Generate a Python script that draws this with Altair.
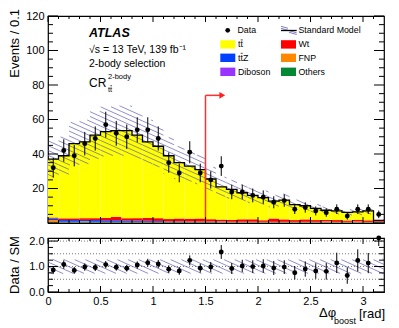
import math
import altair as alt
import pandas as pd

# ---------------- data ----------------
edges = [0.0, 0.1, 0.2, 0.3, 0.4, 0.5, 0.6, 0.7, 0.8, 0.9, 1.0, 1.1, 1.2, 1.3, 1.4, 1.5,
         1.6, 1.7, 1.8, 1.9, 2.0, 2.1, 2.2, 2.3, 2.4, 2.5, 2.6, 2.7, 2.8, 2.9, 3.0, 3.1, 3.2]
data_counts = [32, 42, 39, 46, 49, 57, 52, 50, 54, 54, 49, 35, 29, 41, 29, 25,
               33, 18, 18, 16, 15, 12, 13, 8, 9, 7, 6, 8, 4, 8, 8, 5]
data_err = [5.7, 6.5, 6.2, 6.8, 7.0, 7.5, 7.2, 7.1, 7.3, 7.3, 7.0, 5.9, 5.4, 6.4, 5.4, 5.0,
            5.7, 4.2, 4.2, 4.0, 3.9, 3.5, 3.6, 2.8, 3.0, 2.6, 2.4, 2.8, 2.0, 2.8, 2.8, 2.2]
ttbar = [33.8, 36.3, 43.3, 44.2, 48.2, 50.1, 49.9, 50.7, 48.2, 44.1, 41.7, 36.7, 32.4, 30.5, 28.4, 23.3,
         19.0, 17.8, 15.4, 13.9, 13.1, 10.1, 11.2, 8.9, 7.9, 6.8, 5.6, 5.3, 4.7, 4.6, 5.5, 0.3]
wt = [0.5, 1.0, 1.0, 1.0, 1.1, 1.3, 2.0, 1.3, 1.4, 1.6, 1.6, 1.3, 1.6, 1.6, 1.7, 1.3,
      1.0, 1.0, 1.4, 1.4, 0.9, 1.9, 1.4, 1.0, 1.4, 1.0, 0.8, 1.0, 0.8, 0.9, 0.9, 0.5]
ttz = [1.0, 1.0, 1.0, 0.8, 1.0, 0.9, 0.9, 0.8, 0.7, 0.6, 0.5, 0.3, 0.3, 0.2, 0.2, 0.2,
       0.2, 0.15, 0.15, 0.15, 0.1, 0.1, 0.1, 0.1, 0.1, 0.1, 0.1, 0.1, 0.1, 0.05, 0.05, 0.05]
fnp = [1.2, 0.2, 0.2, 0.5, 0.2, 0.2, 0.2, 0.2, 0.2, 0.2, 0.2, 0.2, 0.2, 0.2, 0.2, 0.2,
       0.4, 0.2, 0.2, 0.2, 0.2, 0.2, 0.2, 0.2, 0.2, 0.2, 0.5, 0.2, 0.2, 0.5, 0.2, 0.2]
diboson = [0.1, 0.1, 0.1, 0.1, 0.1, 0.1, 0.1, 0.1, 0.1, 0.1, 0.1, 0.1, 0.1, 0.1, 0.1, 0.1,
           0.1, 0.1, 0.1, 0.1, 0.1, 0.1, 0.1, 0.1, 0.1, 0.1, 0.1, 0.1, 0.1, 0.1, 0.1, 0.1]
others = [0.4, 0.4, 0.4, 0.4, 0.4, 0.4, 0.4, 0.4, 0.4, 0.4, 0.4, 0.4, 0.4, 0.4, 0.4, 0.4,
          0.3, 0.3, 0.3, 0.3, 0.3, 0.3, 0.3, 0.3, 0.3, 0.3, 0.3, 0.3, 0.3, 0.3, 0.3, 0.4]
sm_unc = [0.28, 0.28, 0.27, 0.27, 0.27, 0.27, 0.27, 0.27, 0.27, 0.27, 0.27, 0.27, 0.27, 0.27, 0.27, 0.27,
          0.27, 0.27, 0.27, 0.27, 0.27, 0.27, 0.27, 0.27, 0.27, 0.27, 0.27, 0.27, 0.27, 0.27, 0.27, 0.3]

processes = ["Others", "Diboson", "FNP", "ttZ", "Wt", "ttbar"]   # stacking order, bottom -> top
proc_values = {"Others": others, "Diboson": diboson, "FNP": fnp, "ttZ": ttz, "Wt": wt, "ttbar": ttbar}
proc_colors = {"ttbar": "#ffff00", "Wt": "#ff0000", "ttZ": "#0040ff",
               "FNP": "#ff8800", "Diboson": "#9933ff", "Others": "#008833"}

main_y_labels = [20, 40, 60, 80, 100, 120]
main_y_major = [0, 20, 40, 60, 80, 100, 120]
main_y_minor = [5, 10, 15, 25, 30, 35, 45, 50, 55, 65, 70, 75, 85, 90, 95, 105, 110, 115]
x_major = [0.0, 0.5, 1.0, 1.5, 2.0, 2.5, 3.0]
x_minor = [0.1, 0.2, 0.3, 0.4, 0.6, 0.7, 0.8, 0.9, 1.1, 1.2, 1.3, 1.4, 1.6, 1.7, 1.8, 1.9,
           2.1, 2.2, 2.3, 2.4, 2.6, 2.7, 2.8, 2.9, 3.1]
ratio_y_labels = [0, 1, 2]
ratio_y_major = [0, 1, 2]
ratio_y_minor = [0.25, 0.5, 0.75, 1.25, 1.5, 1.75]
ratio_ref_lines = [0.5, 1.0, 1.5, 2.0]

cut_x = 1.5
arrow_y = 74
arrow_end = 1.66

# ---------------- layout ----------------
FONT = "Liberation Sans"
W = 336
HM = 207
HR = 54
XD = [0.0, 3.2]
YMD = [0, 120]
YRD = [0, 2.12]
HATCH = "#5d5db3"

nb = len(data_counts)
totals = [sum(proc_values[p][i] for p in processes) for i in range(nb)]
centers = [(edges[i] + edges[i + 1]) / 2 for i in range(nb)]

xs = alt.Scale(domain=XD, nice=False, zero=False)
ysm = alt.Scale(domain=YMD, nice=False, zero=False)
ysr = alt.Scale(domain=YRD, nice=False, zero=False, clamp=True)

lab = dict(ticks=False, domain=False, grid=False, labelFont=FONT, labelFontSize=11,
           labelColor="black", labelPadding=4, labelFlush=False, labelOverlap=False, title=None)
ym_axis = alt.Axis(values=main_y_labels, **lab)
yr_axis = alt.Axis(values=ratio_y_labels, **lab)
xr_axis = alt.Axis(values=x_major, format="~g", **dict(lab, labelPadding=3))


def Xm(f):
    return alt.X(f, type="quantitative", scale=xs, axis=None)


def Xr(f):
    return alt.X(f, type="quantitative", scale=xs, axis=xr_axis)


def Ym(f):
    return alt.Y(f, type="quantitative", scale=ysm, axis=ym_axis)


def Yr(f):
    return alt.Y(f, type="quantitative", scale=ysr, axis=yr_axis)


one = pd.DataFrame({"k": [0]})


def txt(text, x, y, size=10.5, align="left", baseline="middle", weight="normal",
        style="normal", angle=0, color="black"):
    return alt.Chart(one).mark_text(
        text=text, align=align, baseline=baseline, fontSize=size, font=FONT,
        fontWeight=weight, fontStyle=style, angle=angle, color=color
    ).encode(x=alt.value(x), y=alt.value(y))


def box(x0, x1, y0, y1, color):
    return alt.Chart(one).mark_rect(color=color).encode(
        x=alt.value(x0), x2=alt.value(x1), y=alt.value(y0), y2=alt.value(y1))


def seg(x0, y0, x1, y1, color="black", width=1.0):
    return alt.Chart(one).mark_rule(color=color, strokeWidth=width).encode(
        x=alt.value(x0), x2=alt.value(x1), y=alt.value(y0), y2=alt.value(y1))


def ttbar_text(x, y, size, suffix=""):
    # "t t-bar": the bar over the second t is drawn as a short rule
    tw = 0.278 * size
    return [txt("tt" + suffix, x, y, size=size),
            seg(x + tw + 0.2, y - 0.5 * size, x + 2 * tw - 0.1, y - 0.5 * size, "black", 0.7)]


def hatch(lo_vals, hi_vals, ydom, height, spacing=4.8, slope=0.45):
    kx = W / (XD[1] - XD[0])
    ky = height / (ydom[1] - ydom[0])
    rows = []
    for i in range(len(lo_vals)):
        px0, px1 = edges[i] * kx, edges[i + 1] * kx
        pyt = height - (min(hi_vals[i], ydom[1]) - ydom[0]) * ky
        pyb = height - (max(lo_vals[i], ydom[0]) - ydom[0]) * ky
        kmin = math.ceil((pyt - slope * px1) / spacing)
        kmax = math.floor((pyb - slope * px0) / spacing)
        for k in range(kmin, kmax + 1):
            c = k * spacing
            a = max(px0, (pyt - c) / slope)
            b = min(px1, (pyb - c) / slope)
            if b - a > 0.3:
                rows.append(dict(x=a / kx, x2=b / kx,
                                 y=ydom[0] + (height - (c + slope * a)) / ky,
                                 y2=ydom[0] + (height - (c + slope * b)) / ky))
    return pd.DataFrame(rows)


# ---------------- main panel ----------------
stack_rows = []
for i in range(nb):
    base = 0.0
    for p in processes:
        v = proc_values[p][i]
        stack_rows.append(dict(x0=edges[i], x1=edges[i + 1], y0=base, y1=base + v, proc=p))
        base += v
stack_df = pd.DataFrame(stack_rows)

stack = alt.Chart(stack_df).mark_rect(strokeWidth=0).encode(
    x=Xm("x0"), x2="x1", y=Ym("y0"), y2="y1",
    color=alt.Color("proc:N", scale=alt.Scale(domain=list(proc_colors.keys()),
                                              range=list(proc_colors.values())), legend=None))

band_main = hatch([t * (1 - u) for t, u in zip(totals, sm_unc)],
                  [t * (1 + u) for t, u in zip(totals, sm_unc)], YMD, HM)
hatch_main = alt.Chart(band_main).mark_rule(color=HATCH, strokeWidth=0.7).encode(
    x=Xm("x"), x2="x2", y=Ym("y"), y2="y2")

step_df = pd.DataFrame({"x": edges, "y": totals + [totals[-1]]})
step = alt.Chart(step_df).mark_line(color="black", strokeWidth=1.3, interpolate="step-after").encode(
    x=Xm("x"), y=Ym("y"))

cut_df = pd.DataFrame({"x": [cut_x], "y0": [0], "y1": [arrow_y], "xe": [arrow_end]})
cut_v = alt.Chart(cut_df).mark_rule(color="#ff3030", strokeWidth=1.5).encode(
    x=Xm("x"), y=Ym("y0"), y2="y1")
cut_h = alt.Chart(cut_df).mark_rule(color="#ff3030", strokeWidth=1.5).encode(
    x=Xm("x"), x2="xe", y=Ym("y1"))
cut_head = alt.Chart(cut_df).mark_point(shape="triangle-right", filled=True, color="#ff2020",
                                         size=45, opacity=1).encode(x=Xm("xe"), y=Ym("y1"))

data_df = pd.DataFrame({"x": centers, "y": data_counts,
                        "lo": [d - e for d, e in zip(data_counts, data_err)],
                        "hi": [d + e for d, e in zip(data_counts, data_err)]})
err_main = alt.Chart(data_df).mark_rule(color="black", strokeWidth=1).encode(
    x=Xm("x"), y=Ym("lo"), y2="hi")
pts_main = alt.Chart(data_df).mark_point(filled=True, color="black", size=24, opacity=1).encode(
    x=Xm("x"), y=Ym("y"))


def yticks_layers(major, minor, Yenc, lmaj, lmin):
    out = []
    for vals, ln in ((major, lmaj), (minor, lmin)):
        d = pd.DataFrame({"v": vals})
        out.append(alt.Chart(d).mark_rule(color="black", strokeWidth=1).encode(
            y=Yenc("v"), x=alt.value(0), x2=alt.value(ln)))
        out.append(alt.Chart(d).mark_rule(color="black", strokeWidth=1).encode(
            y=Yenc("v"), x=alt.value(W), x2=alt.value(W - ln)))
    return out


def xticks_layers(Xenc, H, lmaj, lmin):
    out = []
    for vals, ln in ((x_major, lmaj), (x_minor, lmin)):
        d = pd.DataFrame({"v": vals})
        out.append(alt.Chart(d).mark_rule(color="black", strokeWidth=1).encode(
            x=Xenc("v"), y=alt.value(0), y2=alt.value(ln)))
        out.append(alt.Chart(d).mark_rule(color="black", strokeWidth=1).encode(
            x=Xenc("v"), y=alt.value(H), y2=alt.value(H - ln)))
    return out


anchor = alt.Chart(one).mark_rule(strokeOpacity=0).encode(
    x=alt.value(-39), x2=alt.value(-39), y=alt.value(-7), y2=alt.value(0))

legend_layers = [
    alt.Chart(one).mark_point(filled=True, color="black", size=22, opacity=1).encode(
        x=alt.value(179.7), y=alt.value(14.3)),
    txt("Data", 189.5, 14.3, size=8.8),
    seg(233, 12.3, 248.7, 16.8, HATCH, 0.8),
    seg(233, 10.3, 240, 12.3, HATCH, 0.8),
    seg(241, 16.3, 248.7, 18.5, HATCH, 0.8),
    seg(233, 14.5, 248.7, 14.5, "black", 1.3),
    txt("Standard Model", 250.5, 14.3, size=8.8),
    box(172.3, 187.3, 24.2, 32.6, proc_colors["ttbar"]), *ttbar_text(190, 28.3, 8.8),
    box(233, 248, 24.2, 32.6, proc_colors["Wt"]), txt("Wt", 250.5, 28.3, size=8.8),
    box(172.3, 187.3, 37.6, 46, proc_colors["ttZ"]), *ttbar_text(190, 41.7, 8.8, "Z"),
    box(233, 248, 37.6, 46, proc_colors["FNP"]), txt("FNP", 250.5, 41.7, size=8.8),
    box(172.3, 187.3, 51.6, 60, proc_colors["Diboson"]), txt("Diboson", 190, 55.7, size=8.8),
    box(233, 248, 51.6, 60, proc_colors["Others"]), txt("Others", 250.5, 55.7, size=8.8),
]

labels_main = [
    txt("ATLAS", 41, 16.5, size=12.5, weight="bold", style="italic"),
    txt("\u221As = 13 TeV, 139 fb\u207B\u00B9", 41, 34, size=10.5),
    txt("2-body selection", 41, 48, size=10.5),
    txt("CR", 41, 67, size=12),
    txt("2-body", 60, 61, size=7.5),
    *ttbar_text(60, 73.5, 7.5),
    txt("Events / 0.1", -39, -7, size=13, align="right", baseline="top", angle=270),
]

main = alt.layer(
    stack, hatch_main, step, cut_v, cut_h, cut_head, err_main, pts_main,
    *yticks_layers(main_y_major, main_y_minor, Ym, 10, 5),
    *xticks_layers(Xm, HM, 6, 3),
    *labels_main, *legend_layers, anchor,
).properties(width=W, height=HM)

# ---------------- ratio panel ----------------
ratio_df = pd.DataFrame({
    "x": centers,
    "r": [d / t for d, t in zip(data_counts, totals)],
    "lo": [(d - e) / t for d, e, t in zip(data_counts, data_err, totals)],
    "hi": [(d + e) / t for d, e, t in zip(data_counts, data_err, totals)],
})
band_ratio = hatch([1 - u for u in sm_unc], [1 + u for u in sm_unc], YRD, HR)
hatch_ratio = alt.Chart(band_ratio).mark_rule(color=HATCH, strokeWidth=0.7).encode(
    x=Xr("x"), x2="x2", y=Yr("y"), y2="y2")
ref_df = pd.DataFrame({"v": ratio_ref_lines, "x0": [XD[0]] * 4, "x1": [XD[1]] * 4})
ref_lines = alt.Chart(ref_df).mark_rule(color="#555555", strokeWidth=0.8, strokeDash=[1, 2]).encode(
    x=Xr("x0"), x2="x1", y=Yr("v"))
err_ratio = alt.Chart(ratio_df).mark_rule(color="black", strokeWidth=1).encode(
    x=Xr("x"), y=Yr("lo"), y2="hi")
pts_ratio = alt.Chart(ratio_df).mark_point(filled=True, color="black", size=24, opacity=1).encode(
    x=Xr("x"), y=Yr("r"))

labels_ratio = [
    txt("Data / SM", -39, HR / 2, size=13, align="center", baseline="top", angle=270),
    txt("\u0394\u03C6", 271, 75, size=13),
    txt("boost", 286, 83, size=9),
    txt("[rad]", 337, 76, size=13, align="right"),
]

ratio = alt.layer(
    ref_lines, hatch_ratio, err_ratio, pts_ratio,
    *yticks_layers(ratio_y_major, ratio_y_minor, Yr, 10, 5),
    *xticks_layers(Xr, HR, 6, 3),
    *labels_ratio,
).properties(width=W, height=HR)

chart = alt.vconcat(main, ratio, spacing=15, bounds="flush").properties(
    padding=0, background="white"
).configure_view(stroke="black", strokeWidth=1.2)

chart.save("out.html", embed_options={"renderer": "svg", "actions": False})
